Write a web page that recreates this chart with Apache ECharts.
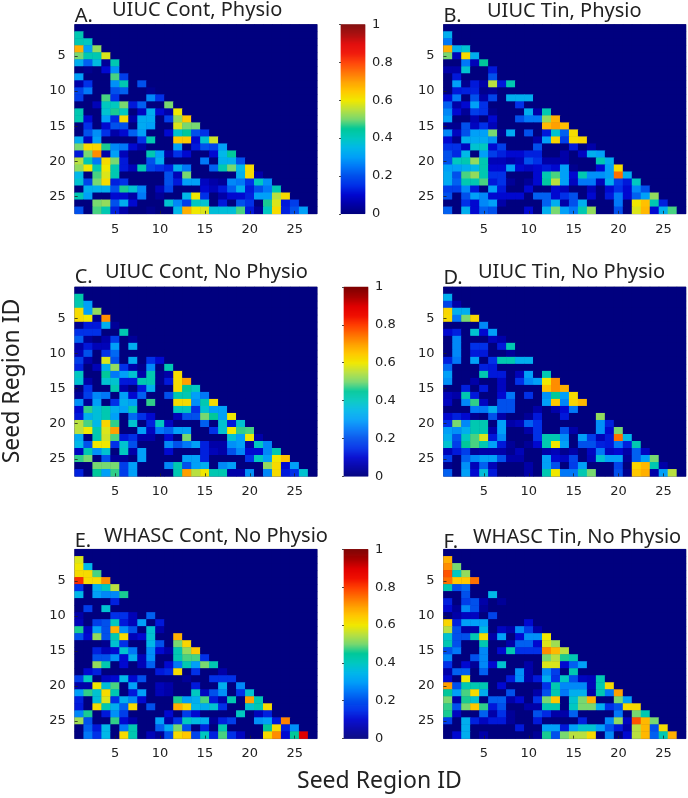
<!DOCTYPE html>
<html>
<head>
<meta charset="utf-8">
<title>Seed Region ID</title>
<script src="https://cdn.jsdelivr.net/npm/echarts@6/dist/echarts.min.js"></script>
<style>
html,body{margin:0;padding:0;background:#fff;}
#main{width:688px;height:798px;}
</style>
</head>
<body>
<div id="main"></div>
<script>
// rows 2..27 of each lower triangle, columns 1..row-1
var panelA = [
[.42],
[.42,.4],
[.68,.3,.52],
[.5,.42,.42,.58],
[.33,.22,.36,.03,.42],
[0,.02,0,.1,.28,0],
[.3,0,0,0,.48,.17,0],
[.05,.15,0,0,.28,.42,0,.2],
[.18,.25,0,0,.2,.22,0,0,.02],
[.17,0,0,.48,.15,0,0,0,.27,.15],
[0,0,.07,.4,.4,.5,.12,.22,0,0,.5],
[.42,0,0,.38,.46,.4,0,.08,.33,.1,.05,.6],
[.42,.1,0,.3,.14,.62,.05,.32,.32,0,.17,.52,.65],
[0,.15,0,.1,.2,.2,0,.32,.3,0,0,.58,.5,.5],
[0,.2,.28,.15,.05,.1,.22,.3,0,0,.1,.38,.45,.2,.15],
[.32,.08,.3,0,0,0,0,.15,.42,0,0,.65,.65,.1,.38,.57],
[.5,.62,.63,.46,.27,.25,.1,.05,0,0,0,.3,0,.12,.2,.18,.3],
[.12,.5,.72,.05,.3,.07,0,0,.42,.3,.05,.15,.1,0,0,.1,.35,.45],
[.55,.42,.25,.62,.5,.12,0,0,.2,.33,0,0,0,0,.25,0,.33,.33,.2],
[.52,.6,.42,.6,.42,.12,.07,.42,.18,.15,.13,.33,.25,0,0,.22,.42,.5,.35,.62],
[.35,0,.48,.58,.42,0,0,0,0,0,.2,.07,.5,0,0,0,0,0,.33,.62,.05],
[.38,.18,.5,.62,.13,.15,0,0,0,0,.2,.12,.3,.3,.08,.05,.03,.27,.25,.15,.4,.28],
[0,.33,.33,.33,.2,.46,.38,.27,0,.07,.18,0,0,0,.1,.07,.12,.22,.33,.12,.2,.25,.42],
[.42,.3,0,0,.1,.1,.05,.25,0,.03,0,0,.35,.6,.15,0,.05,.1,.1,.13,.3,.3,.55,.62],
[0,0,.5,.52,.2,.33,.1,0,0,0,.38,.27,.17,.4,.38,0,.12,0,.2,.15,0,.46,.58,.12,.17],
[.2,0,.48,.42,.13,.05,0,0,.02,0,0,.35,.68,.6,.58,.37,.37,.37,.48,.12,.03,.4,.62,.13,.2,.3]
];
var panelB = [
[.33],
[.25,0],
[.68,.33,.38],
[.5,.07,.62,.33],
[0,0,.25,.07,.45],
[.05,.05,.38,0,0,.12],
[0,.12,0,0,0,.2,0],
[0,.3,.02,.12,.05,.55,.12,.42],
[0,.12,.13,.13,.02,.03,0,0,0],
[.1,.25,0,.2,.05,.18,0,.33,.33,.33],
[.22,.05,.1,.3,.15,0,0,0,.15,0,0],
[.27,.1,.03,.17,.15,.02,0,0,0,.33,.05,.42],
[.3,0,0,.06,0,.1,0,0,.2,.25,.25,.52,.68],
[.02,.02,.2,.08,.15,.07,0,0,0,0,0,.67,.7,.66],
[.27,.08,.2,.3,.3,.5,.02,.32,0,.2,0,.12,.38,.22,.62],
[.1,.02,.33,.32,.32,.28,0,0,0,0,.05,.3,.63,.17,.62,.63],
[.15,.15,.08,.38,.4,.1,.17,0,0,0,.2,0,0,0,.12,0,.05],
[.2,.14,.35,0,.3,.17,.13,.1,.1,.13,.13,0,0,.05,0,.08,.33,.3],
[.2,.4,.42,.52,.42,.07,.07,.05,.07,.2,.15,.05,.05,.05,0,0,0,.42,.33],
[.3,.3,.33,.35,.42,.1,.1,.3,.1,.08,.1,.12,.1,.3,.02,0,0,.1,.3,.62],
[.32,.2,.48,.52,.42,.15,.15,0,0,0,.1,.42,.48,.3,.1,.42,.28,.28,.3,.75,.33],
[.32,.22,.42,.42,.48,.12,.15,.03,0,.03,.1,.44,.55,.3,.08,.25,.25,.07,.33,.17,.12,.4],
[.17,.17,.27,.12,0,.3,.12,0,0,.1,0,0,.1,.07,0,0,.07,0,.1,.15,.1,.27,.2],
[.2,0,.2,.3,.27,.1,.1,.1,.1,0,.22,.22,.1,.15,.2,0,.1,0,.12,.25,.1,.22,.3,.52],
[0,0,.15,.1,.27,.3,.05,0,0,0,0,.22,.33,.05,.2,.33,0,0,0,.25,0,.6,.66,.42,.13],
[.22,0,.33,.1,.22,.2,0,0,0,.1,0,.33,.5,.3,.25,.42,.52,0,0,.2,0,.58,.67,.1,.33,.48]
];
var panelC = [
[.43],
[.42,.3],
[.62,.3,.52],
[.62,.6,.02,.72],
[.02,.12,.12,.33,.03],
[.15,.15,.15,0,0,.42],
[.22,.03,0,.05,.17,0,.03],
[.05,.12,.07,.07,.3,0,.33,0],
[.07,.2,0,.15,.23,0,0,0,0],
[.17,.05,0,.58,.2,0,.32,0,.15,.1],
[.13,0,.07,.33,.52,.15,.05,.02,.27,0,.42],
[.4,0,0,.45,.25,.3,.38,.05,.42,.02,.05,.62],
[.38,.05,0,.38,.38,.12,.12,.42,.42,.02,.12,.62,.7],
[0,.15,0,0,.42,.05,0,.12,.33,0,0,.62,.45,.4],
[.03,.17,.27,.25,0,.3,.1,.22,0,0,.2,.42,.42,.3,.25],
[.28,.03,.3,0,.15,.33,.3,0,.47,0,0,.62,.62,.28,.42,.62],
[.1,.47,.37,.42,.33,.3,.42,0,0,0,0,.4,.4,.15,.38,.3,.3],
[.12,.33,.37,.42,.3,0,.23,.15,.1,0,0,.07,.2,.2,.5,.45,.3,.6],
[.55,.48,.35,.63,.47,0,.38,0,.13,.4,.08,0,0,0,.22,0,.38,.12,.38],
[.55,.6,.42,.58,.7,0,0,.3,.08,.25,.22,.3,.3,0,0,.15,.38,.6,.47,.48],
[.32,0,.42,.57,.48,.12,.15,.05,.05,0,.1,0,.5,0,0,0,0,.38,.3,.6,.05],
[.35,.2,.6,.6,.15,.38,.2,0,0,0,.27,.2,.25,.3,.13,.05,.05,.28,.3,.05,.4,.27],
[.08,.42,.28,.38,0,.4,.05,.3,0,0,.1,0,0,0,.13,.07,.05,.2,.27,.1,.1,.27,.42],
[.47,.5,0,.2,.03,.03,0,.3,0,0,0,0,.3,.3,.13,0,0,0,0,.15,.4,.3,.6,.66],
[0,0,.5,.5,.5,.17,.3,0,0,0,.27,.42,.2,.3,.33,0,.27,.3,0,0,0,.52,.62,.1,.3],
[.13,0,.45,.3,.47,.17,.3,0,0,0,0,.42,.7,.55,.6,.42,.42,.05,.05,.28,0,.27,.62,.12,.15,.38]
];
var panelD = [
[.33],
[.18,.05],
[.63,.33,.33],
[.62,.25,.5,.63],
[0,0,0,0,.27],
[.1,.13,0,.38,.1,.3],
[0,.27,0,0,0,.07,.05],
[0,.27,0,.15,.15,0,.12,.42],
[0,.27,0,.12,.12,0,0,.03,0],
[.13,.25,0,.3,0,.15,.42,.42,.33,.33],
[.23,0,0,0,.13,.12,0,0,0,0,0],
[.3,0,0,0,.42,.12,.12,0,.07,.3,0,.42],
[.28,0,0,.05,0,0,.08,0,.15,.27,.3,.6,.72],
[0,0,.13,0,.12,0,.08,0,0,0,0,.66,.72,.68],
[.07,.05,.42,.12,0,0,.1,.25,0,.15,0,.28,.45,.3,.62],
[.08,0,.27,.47,.08,0,.2,.2,0,0,0,.3,.65,.27,.63,.67],
[0,0,0,.25,.25,.33,.2,.2,0,0,.05,0,.05,.1,.25,0,0],
[.1,.13,.1,.02,0,.2,.05,0,0,.03,.12,0,0,.12,0,0,0,.52],
[.15,.5,.27,.42,.42,0,.3,.05,.07,.22,.15,0,0,0,0,0,0,.28,.13],
[.3,.28,.33,.42,.42,.05,.3,0,0,.05,.15,0,0,.2,.05,0,0,.28,.1,.5],
[.33,.2,.4,.48,.58,.12,.27,0,0,0,.15,.42,.42,.28,0,.3,.17,.07,.12,.75,.35],
[.38,.17,.45,.48,.42,.3,.12,.03,0,.03,.1,.42,.6,.3,0,.2,.2,.13,.12,.25,.13,.42],
[.07,.12,.17,.03,.05,.05,.05,.02,.07,0,0,.05,.07,.02,.05,0,.08,.25,.08,.1,.05,.22,.08],
[.17,0,.22,.27,.3,.3,.2,.05,.05,0,0,.3,.1,.08,.18,0,.07,.38,.3,.3,.03,.22,.3,.5],
[.02,0,.28,.07,.22,.07,0,0,0,.05,0,.3,.2,0,.17,.3,0,0,0,.18,0,.63,.67,.42,.05],
[.22,0,.3,.1,.37,.12,0,0,0,.05,0,.42,.6,.25,.25,.42,.5,0,0,.2,.02,.65,.68,.05,.3,.55]
];
var panelE = [
[.58],
[.6,.35],
[.62,.62,.48],
[.82,.62,.62,.72],
[.15,0,.33,.4,.55],
[.35,0,.3,.27,.27,.46],
[0,0,0,0,.13,0,0],
[0,.17,0,.38,0,0,0,0],
[.05,0,0,0,.15,.15,.07,0,.22],
[.07,0,.17,.2,.4,.12,.07,.3,0,.12],
[.46,.08,.3,.2,.68,.28,.2,0,.38,.05,0],
[.2,.1,.52,.2,.42,.62,.07,.1,.38,0,0,.68],
[0,0,0,.02,.38,.15,0,0,.35,.2,0,.5,.63],
[0,0,.13,.07,.1,.38,.25,0,.28,.1,.05,.42,.52,.65],
[0,0,.2,.2,.28,.1,.33,.07,.28,0,0,.42,.48,.48,.15],
[0,0,.52,.42,0,.1,0,.07,.22,0,.1,.25,.42,.3,.5,.42],
[0,.1,.13,0,0,0,0,0,0,.12,.14,.62,0,.15,0,0,.05],
[.17,.4,0,.08,.1,.35,.1,.2,0,0,0,0,.03,0,0,.15,.15,.15],
[.05,.05,.6,.37,.48,0,.3,0,0,.07,.05,0,0,.12,0,0,.33,0,.27],
[.3,.47,.38,.62,.42,0,.12,.3,0,.07,.05,0,0,.4,.08,.2,.28,0,.15,.38],
[.13,0,.37,.58,.15,.33,.27,.1,0,0,0,.46,.3,.33,.48,.12,.05,.42,0,.7,.42],
[.12,0,.62,.42,.33,.22,.62,0,.2,0,0,.68,.63,.35,.33,.38,.15,0,0,.38,.42,.62],
[.27,.46,0,.12,.28,.17,0,0,0,0,.1,0,.17,.1,0,0,0,0,.4,0,.07,.13,0],
[.53,.2,0,0,.47,.1,.05,0,0,.3,.05,.15,.4,.36,.33,.03,.13,.17,0,0,.28,.3,.12,.73],
[0,.22,.12,.35,0,.25,.42,0,0,.22,.32,.5,.2,0,.13,0,.42,0,0,0,0,.45,.62,.13,.28],
[0,.25,.15,.35,0,.62,.42,0,.07,.03,.2,.62,.65,.18,.4,.13,.48,.15,.08,0,0,.62,.72,.1,.45,.9]
];
var panelF = [
[.68],
[.72,.5],
[.78,.4,.52],
[.75,.65,.65,.75],
[.42,.2,.23,0,0],
[0,0,.2,0,0,.35],
[.13,0,.17,.2,.05,0,.03],
[.1,.03,.27,.2,.03,0,0,0],
[0,.05,.08,.08,0,.18,0,0,0],
[.63,.13,.3,.3,.3,0,0,0,0,.1],
[.55,.2,.05,.05,.35,0,.08,.05,.27,.17,.05],
[.38,.2,.2,.42,.62,.05,.3,0,.1,.28,.28,.6],
[.42,.2,0,0,.42,0,0,.05,.22,.22,.1,.58,.53],
[.2,.25,0,0,.27,0,.1,.42,.15,.15,.15,.72,.67,.55],
[.27,0,0,.2,.27,0,0,0,0,0,0,.5,.55,.46,.42],
[.15,0,.1,.03,.27,.1,.38,0,0,.05,0,.58,.58,.1,.22,.3],
[.05,.22,.22,0,.22,0,0,0,.28,.05,0,.27,.17,0,.42,0,0],
[.1,0,.6,0,0,0,0,.12,.28,.05,.12,.33,.15,.4,.2,.08,.07,.42],
[.7,.2,.42,.42,.42,0,.1,0,0,0,0,.15,.42,.27,.27,.27,.07,.42,.62],
[.45,.3,.48,.62,.33,0,0,.2,0,0,.05,.2,.42,.25,.33,.33,.05,.42,.25,.7],
[.5,.05,.46,.38,0,.22,.22,.05,.1,0,.15,.5,.65,0,.38,.5,.68,0,0,.5,.3],
[.47,.2,.5,.65,.47,.12,.2,0,0,.05,.05,.42,.42,0,.4,.5,.5,.33,.15,.2,.62,.62],
[.46,.08,0,0,.22,.05,.15,.03,0,0,.2,.14,.05,.05,.22,0,0,0,0,.25,0,.5,.42],
[.17,0,.33,.13,.08,.12,.12,.03,0,0,.12,0,0,0,0,.13,0,0,.27,.52,.08,.78,.67,.5],
[0,0,.33,0,0,0,0,0,.12,0,0,.3,.3,.12,.3,.38,.38,.3,.2,.12,.05,.55,.67,.2,.62],
[0,.1,.33,0,.05,0,0,0,0,0,.03,.46,.2,.5,.55,.55,.62,0,.27,0,.1,.55,.67,.22,.42,.68]
];
var regionIds = [];
for (var n = 1; n <= 27; n++) regionIds.push(n);
var colorTicks = [0, 0.2, 0.4, 0.6, 0.8, 1];
var letters = ['A.', 'B.', 'C.', 'D.', 'E.', 'F.'];
var titles = ['UIUC Cont, Physio', 'UIUC Tin, Physio', 'UIUC Cont, No Physio', 'UIUC Tin, No Physio', 'WHASC Cont, No Physio', 'WHASC Tin, No Physio'];
var panels = [panelA, panelB, panelC, panelD, panelE, panelF];

// one stop every 0.05
var jetStops = ['#00007f','#0000a8','#0008d0','#0030e8','#0050ec','#0078f8','#00a0f8','#00b8e8','#00c8c0','#00c89a','#78d870','#b8e040','#f0e800','#ffc800','#ffa000','#ff7000','#ff4000','#f01000','#e00000','#a80000','#7f0000'];
var gridLeft = [74.7, 443.5];
var gridTop = [24.5, 287, 549.3];
var gridW = 242.4, gridH = 189.3;
var barLeft = [341, 344, 344];
var textFont = '"Noto Sans"';
var tickFont = '"DejaVu Sans"';

// colorbar ramp, about one step per pixel
var rampSteps = [], rampCells = [];
for (var s = 0; s < 190; s++) {
	rampSteps.push(s);
	rampCells.push([0, s, s / 189]);
}

var grids = [], xAxes = [], yAxes = [], seriesList = [], titleList = [];

function fiveLabel(idx, val) { return Number(val) % 5 === 0; }

function toCells(rows) {
	var cells = [];
	for (var r = 0; r < 27; r++) {
		for (var c = 0; c < 27; c++) {
			var row = rows[r - 1];
			var v = (row && c < row.length) ? row[c] : 0;
			cells.push([c, r, v]);
		}
	}
	return cells;
}

var titleX = [[112, 487], [105, 478], [104, 473]];
var titleY = [[0, 1], [262, 262], [526, 527]];
var letterY = [[6, 6], [267, 268], [531, 532]];

for (var i = 0; i < 6; i++) {
	var rowIdx = Math.floor(i / 2), colIdx = i % 2;
	grids.push({
		left: gridLeft[colIdx], top: gridTop[rowIdx], width: gridW, height: gridH,
		show: true, backgroundColor: '#00007f', borderColor: '#1a1a50', borderWidth: 0.5
	});
	xAxes.push({
		type: 'category', gridIndex: i, data: regionIds, z: 5,
		axisLine: { show: false },
		axisTick: { show: true, inside: true, length: 3, alignWithLabel: true, interval: fiveLabel, lineStyle: { color: '#222', width: 0.8 } },
		axisLabel: { interval: fiveLabel, color: '#222', fontFamily: tickFont, fontSize: 13, margin: 9 },
		splitLine: { show: false }
	});
	yAxes.push({
		type: 'category', gridIndex: i, data: regionIds, inverse: true, z: 5,
		axisLine: { show: false },
		axisTick: { show: true, inside: true, length: 3, alignWithLabel: true, interval: fiveLabel, lineStyle: { color: '#222', width: 0.8 } },
		axisLabel: { interval: fiveLabel, color: '#222', fontFamily: tickFont, fontSize: 13, margin: 9 },
		splitLine: { show: false }
	});
	seriesList.push({
		type: 'heatmap', xAxisIndex: i, yAxisIndex: i, data: toCells(panels[i]),
		silent: true, progressive: 0,
		itemStyle: { borderWidth: 0 }
	});
	titleList.push({
		text: titles[i], left: titleX[rowIdx][colIdx], top: titleY[rowIdx][colIdx], padding: 0,
		textStyle: { fontFamily: textFont, fontWeight: 'normal', fontSize: 20, color: '#222' }
	});
	titleList.push({
		text: letters[i], left: gridLeft[colIdx], top: letterY[rowIdx][colIdx], padding: 0,
		textStyle: { fontFamily: textFont, fontWeight: 'normal', fontSize: 20, color: '#222' }
	});
}

// colorbars: a one-column heatmap, and a bare value axis over it for the tick labels
for (var b = 0; b < 3; b++) {
	grids.push({ left: barLeft[b], top: gridTop[b], width: 24, height: gridH });
	xAxes.push({ type: 'category', gridIndex: 6 + b * 2, show: false, data: [0] });
	yAxes.push({ type: 'category', gridIndex: 6 + b * 2, show: false, data: rampSteps });
	seriesList.push({
		type: 'heatmap', xAxisIndex: 6 + b * 2, yAxisIndex: 6 + b * 2, data: rampCells,
		silent: true, progressive: 0, itemStyle: { borderWidth: 0 }
	});

	grids.push({ left: barLeft[b], top: gridTop[b], width: 24, height: gridH });
	xAxes.push({ type: 'value', gridIndex: 7 + b * 2, show: false, min: 0, max: 1 });
	yAxes.push({
		type: 'value', gridIndex: 7 + b * 2, position: 'right', min: 0, max: 1, interval: 0.2, z: 5,
		axisLine: { show: false }, splitLine: { show: false },
		axisTick: { show: true, inside: true, length: 2, lineStyle: { color: '#222', width: 0.8 } },
		axisLabel: { color: '#222', fontFamily: tickFont, fontSize: 13, margin: 7,
			customValues: colorTicks }
	});
}

titleList.push({
	text: 'Seed Region ID', left: 297, top: 770, padding: 0,
	textStyle: { fontFamily: textFont, fontWeight: 'normal', fontSize: 23, color: '#222' }
});

var myChart = echarts.init(document.getElementById('main'));
myChart.setOption({
	animation: false,
	backgroundColor: '#fff',
	title: titleList,
	grid: grids,
	xAxis: xAxes,
	yAxis: yAxes,
	visualMap: { type: 'continuous', show: false, min: 0, max: 1, seriesIndex: [0, 1, 2, 3, 4, 5, 6, 7, 8], inRange: { color: jetStops } },
	series: seriesList,
	graphic: [{
		type: 'text', rotation: Math.PI / 2, x: 12, y: 381,
		style: { text: 'Seed Region ID', fontFamily: textFont, fontSize: 23, fill: '#222', align: 'center', verticalAlign: 'middle' }
	}]
});
</script>
</body>
</html>
